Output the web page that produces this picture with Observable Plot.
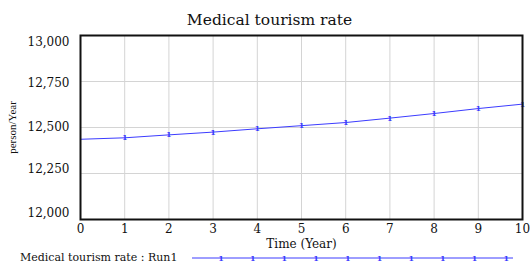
<!DOCTYPE html>
<html>
<head>
<meta charset="utf-8">
<script src="https://cdn.jsdelivr.net/npm/d3@7"></script>
<script src="https://cdn.jsdelivr.net/npm/@observablehq/plot@0.6"></script>
<style>
  body { margin: 0; background: white; }
  #wrap { position: relative; width: 531px; height: 264px; overflow: hidden; background: white; font-family: "DejaVu Serif", serif; }
  #title { height: 30px; line-height: 40px; text-align: center; font-size: 15.5px; padding-left: 8px; box-sizing: border-box; color: #111; }
  #legend { position: absolute; left: 0; top: 250px; width: 531px; height: 14px; }
</style>
</head>
<body>
<div id="wrap">
  <div id="title">Medical tourism rate</div>
  <div id="chart"></div>
  <svg id="legend" width="531" height="14"></svg>
</div>
<script>
const years = [0, 1, 2, 3, 4, 5, 6, 7, 8, 9, 10];
const rate = [12436, 12444, 12460, 12475, 12493, 12510, 12527, 12551, 12576, 12603, 12627];
const yTicks = [12000, 12250, 12500, 12750, 13000];
const xTicks = [0, 1, 2, 3, 4, 5, 6, 7, 8, 9, 10];
const seriesName = "Medical tourism rate : Run1";
const lineColor = "#3c3cff";

const data = years.map((t, i) => ({t, v: rate[i]}));
const serif = "'DejaVu Serif', serif";
// vertical nudges of y tick labels (the original squeezes them inside the frame)
const yLabelNudge = [-6, -4, 0, 2, 7];

const chart = Plot.plot({
  width: 531,
  height: 220,
  marginLeft: 80,
  marginRight: 9,
  marginTop: 5,
  marginBottom: 31,
  style: {fontFamily: serif, fontSize: "12px", color: "#111", background: "white"},
  x: {domain: [0, 10]},
  y: {domain: [12000, 13000]},
  marks: [
    Plot.gridX(xTicks, {stroke: "#d4d4d4", strokeOpacity: 1}),
    Plot.gridY(yTicks, {stroke: "#d4d4d4", strokeOpacity: 1}),
    Plot.axisX(xTicks, {tickSize: 0, tickPadding: 5, fontSize: 12, label: "Time (Year)", labelAnchor: "center", labelArrow: "none", labelOffset: 28}),
    ...yTicks.map((t, i) => Plot.axisY([t], {tickSize: 0, tickPadding: 11, fontSize: 12, dy: yLabelNudge[i], tickFormat: d3.format(","), label: null})),
    Plot.axisY([], {tickSize: 0, label: "person/Year", labelAnchor: "center", labelArrow: "none", labelOffset: 72, fontFamily: "'Liberation Serif', serif", fontSize: 11}),
    Plot.line(data, {x: "t", y: "v", stroke: lineColor, strokeWidth: 1}),
    Plot.text(data.filter(d => d.t > 0), {x: "t", y: "v", text: () => "1", fill: lineColor, fontSize: 8, fontWeight: "bold"}),
    Plot.frame({stroke: "#111", strokeWidth: 2})
  ]
});
document.getElementById("chart").appendChild(chart);

// legend
const lg = d3.select("#legend");
lg.append("text").attr("x", 20).attr("y", 11).attr("font-size", 11)
  .attr("font-family", serif).attr("fill", "#111").text(seriesName);
lg.append("line").attr("x1", 192).attr("x2", 513).attr("y1", 8).attr("y2", 8)
  .attr("stroke", lineColor).attr("stroke-width", 1);
d3.range(10).forEach(i => {
  lg.append("text").attr("x", 221 + i * 31.7).attr("y", 11).attr("text-anchor", "middle")
    .attr("font-size", 8).attr("font-weight", "bold").attr("fill", lineColor)
    .attr("font-family", serif).text("1");
});
</script>
</body>
</html>
